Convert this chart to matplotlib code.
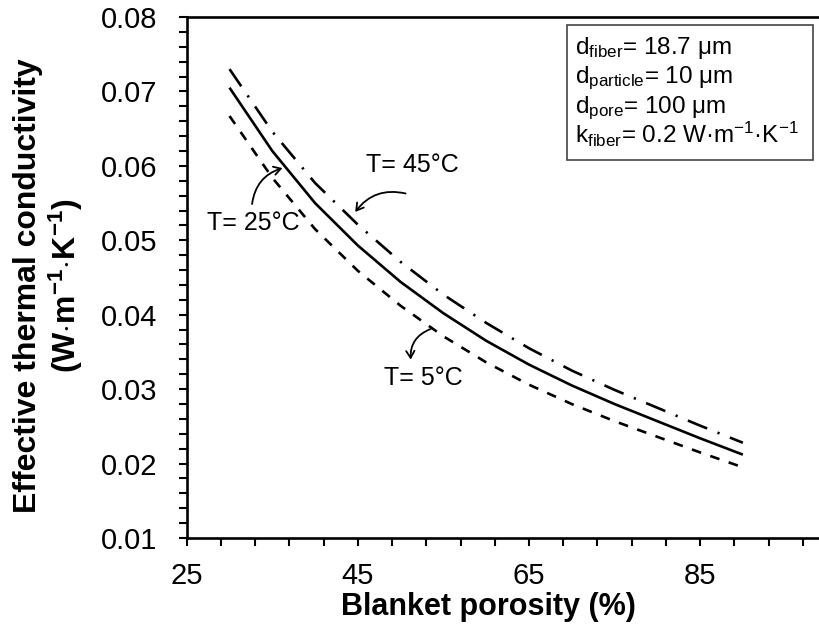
import numpy as np
import matplotlib
matplotlib.use("Agg")
import matplotlib.pyplot as plt
from matplotlib.patches import Rectangle
from matplotlib.ticker import FixedLocator, MultipleLocator

# -----------------------------
# Data
# -----------------------------
porosity = [30, 35, 40, 45, 50, 55, 60, 65, 70, 75, 80, 85, 90]
k_25C = [0.0705, 0.0620, 0.0550, 0.0493, 0.0444, 0.0402, 0.0365,
         0.0333, 0.0305, 0.0280, 0.0257, 0.0234, 0.0212]
k_45C = [0.0730, 0.0646, 0.0577, 0.0521, 0.0471, 0.0427, 0.0389,
         0.0355, 0.0325, 0.0299, 0.0275, 0.0251, 0.0228]
k_5C = [0.0667, 0.0584, 0.0515, 0.0459, 0.0412, 0.0371, 0.0336,
        0.0306, 0.0280, 0.0257, 0.0236, 0.0215, 0.0195]

x_major = [25, 45, 65, 85]
box_lines = [
    r"d$_{\mathrm{fiber}}$= 18.7 μm",
    r"d$_{\mathrm{particle}}$= 10 μm",
    r"d$_{\mathrm{pore}}$= 100 μm",
    r"k$_{\mathrm{fiber}}$= 0.2 W·m$^{\mathrm{-1}}$·K$^{\mathrm{-1}}$",
]

plt.rcParams["font.family"] = ["Liberation Sans", "DejaVu Sans"]
plt.rcParams["mathtext.fontset"] = "custom"
plt.rcParams["mathtext.rm"] = "Liberation Sans"
plt.rcParams["mathtext.it"] = "Liberation Sans"
plt.rcParams["mathtext.bf"] = "Liberation Sans:bold"
plt.rcParams["lines.scale_dashes"] = False

fig = plt.figure(figsize=(8.19, 6.34), dpi=100)
ax = fig.add_axes([0.228, 0.1514, 0.772, 0.8218])

ax.plot(porosity, k_25C, color="black", lw=1.9, solid_capstyle="butt")
ax.plot(porosity, k_45C, color="black", lw=1.9, dashes=(15, 8, 1.6, 8))
ax.plot(porosity, k_5C, color="black", lw=1.9, dashes=(7, 7))

ax.set_xlim(25, 98.9)
ax.set_ylim(0.01, 0.08)
ax.xaxis.set_major_locator(FixedLocator(x_major))
ax.xaxis.set_minor_locator(FixedLocator(np.arange(25, 99, 4)))
ax.yaxis.set_major_locator(MultipleLocator(0.01))
ax.yaxis.set_minor_locator(MultipleLocator(0.002))
ax.set_yticklabels([f"{v:.2f}" for v in ax.get_yticks()])

ax.spines["right"].set_visible(False)
for side in ("left", "bottom", "top"):
    ax.spines[side].set_linewidth(1.9)
ax.tick_params(which="both", direction="out", length=6, width=1.5,
               top=False, right=False)
ax.tick_params(axis="y", which="major", labelsize=21, pad=15)
ax.tick_params(axis="x", which="major", labelsize=21, pad=11)

# axis titles
fig.text(488 / 819, 0.030, "Blanket porosity (%)", fontsize=22,
         fontweight="bold", ha="center", va="baseline")
fig.text(0.034, 0.55, "Effective thermal conductivity", rotation=90,
         fontsize=23, fontweight="bold", ha="center", va="center")
fig.text(0.081, 0.55,
         r"(W$\cdot$m$^{\mathbf{-1}}$$\cdot$K$^{\mathbf{-1}}$)",
         rotation=90, fontsize=23, fontweight="bold",
         ha="center", va="center")

# parameter box
fig.patches.append(Rectangle((567 / 819, 1 - 160 / 634), 246 / 819,
                             135 / 634, transform=fig.transFigure,
                             fill=False, edgecolor="#444444", lw=1.2))
for i, line in enumerate(box_lines):
    fig.text(0.702, 0.915 - i * 0.0468, line, fontsize=17.5,
             ha="left", va="baseline")

# curve labels with curly arrows
arrow = dict(arrowstyle="->,head_length=0.5,head_width=0.3",
             color="black", lw=1.3)
ax.text(51.4, 0.0601, "T= 45°C", fontsize=18, ha="center", va="center")
ax.annotate("", xy=(44.5, 0.0535), xytext=(50.9, 0.0562),
            arrowprops=dict(arrow, connectionstyle="arc3,rad=0.35"))
ax.text(32.8, 0.0523, "T= 25°C", fontsize=18, ha="center", va="center")
ax.annotate("", xy=(36.5, 0.0598), xytext=(32.6, 0.0545),
            arrowprops=dict(arrow, connectionstyle="arc3,rad=-0.35"))
ax.text(52.7, 0.0315, "T= 5°C", fontsize=18, ha="center", va="center")
ax.annotate("", xy=(51.2, 0.0336), xytext=(53.8, 0.0382),
            arrowprops=dict(arrow, connectionstyle="arc3,rad=0.4"))

fig.savefig("out.png", dpi=100)
